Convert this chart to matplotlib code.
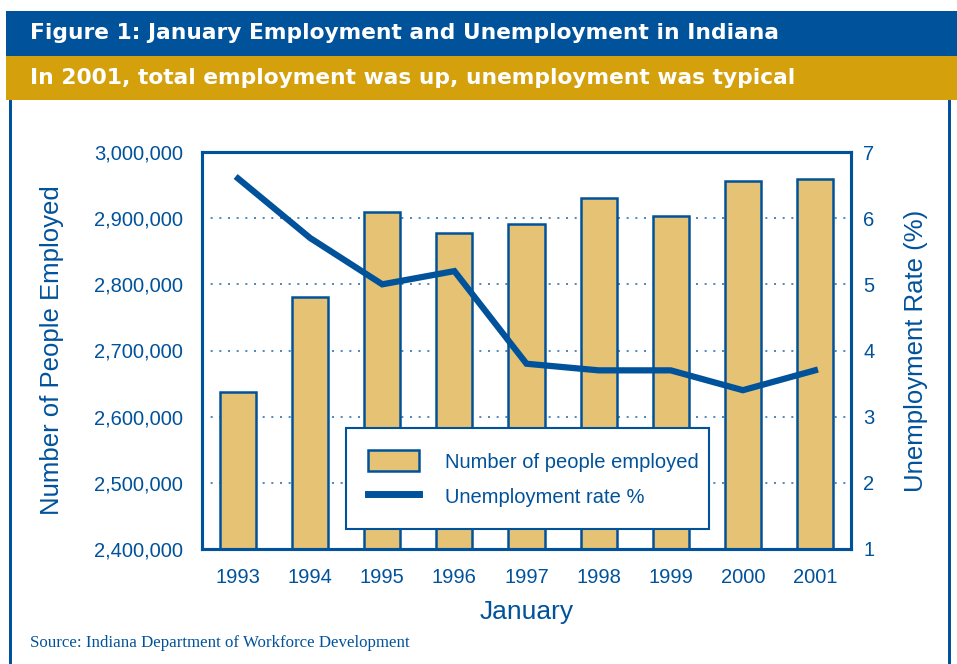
import matplotlib
matplotlib.use("Agg")
import matplotlib.pyplot as plt
from matplotlib.patches import Rectangle, Patch
from matplotlib.lines import Line2D
from matplotlib.ticker import FuncFormatter

years = ["1993", "1994", "1995", "1996", "1997", "1998", "1999", "2000", "2001"]
employed = [2637000, 2781000, 2909000, 2877000, 2891000, 2930000, 2903000, 2956000, 2959000]
unemp_rate = [6.6, 5.7, 5.0, 5.2, 3.8, 3.7, 3.7, 3.4, 3.7]
left_ticks = [2400000, 2500000, 2600000, 2700000, 2800000, 2900000, 3000000]
right_ticks = [1, 2, 3, 4, 5, 6, 7]

BLUE = "#00529B"
GOLD = "#D4A00C"
BAR = "#E6C274"

plt.rcParams["font.family"] = ["Liberation Sans", "DejaVu Sans"]

W, H = 957, 664
fig = plt.figure(figsize=(W / 100, H / 100), dpi=100)


def px_rect(x0, y0, x1, y1, color):
    fig.patches.append(Rectangle((x0 / W, 1 - y1 / H), (x1 - x0) / W, (y1 - y0) / H,
                                 transform=fig.transFigure, facecolor=color,
                                 edgecolor="none", zorder=0))


# frame and header bars
px_rect(6, 11, 957, 56, BLUE)
px_rect(6, 56, 957, 100, GOLD)
px_rect(9, 100, 12, 664, BLUE)
px_rect(948, 100, 951, 664, BLUE)

head = dict(color="white", fontsize=15.7, fontweight="bold", va="center", ha="left",
            family=["DejaVu Sans"])
fig.text(30 / W, 1 - 33 / H, "Figure 1: January Employment and Unemployment in Indiana", **head)
fig.text(30 / W, 1 - 78 / H, "In 2001, total employment was up, unemployment was typical", **head)
fig.text(30 / W, 1 - 643 / H, "Source: Indiana Department of Workforce Development",
         color=BLUE, fontsize=12.2, family=["Liberation Serif", "DejaVu Serif"],
         va="center", ha="left")

ax = fig.add_axes([202 / W, 1 - 549 / H, 649 / W, 397 / H])
x = range(len(years))
ax.bar(x, employed, width=0.5, color=BAR, edgecolor=BLUE, linewidth=1.8, zorder=2)
ax.set_xlim(-0.5, len(years) - 0.5)
ax.set_ylim(left_ticks[0], left_ticks[-1])
ax.set_yticks(left_ticks)
ax.yaxis.set_major_formatter(FuncFormatter(lambda v, p: f"{int(v):,}"))
ax.set_xticks(list(x))
ax.set_xticklabels(years)
ax.grid(axis="y", color=BLUE, linestyle=(0, (1.2, 4)), linewidth=1.2, alpha=0.8, zorder=1)
ax.set_axisbelow(True)
ax.tick_params(axis="y", length=0, labelsize=14.5, labelcolor=BLUE, pad=13.5)
ax.tick_params(axis="x", length=0, labelsize=14.5, labelcolor=BLUE, pad=14)
for s in ax.spines.values():
    s.set_color(BLUE)
    s.set_linewidth(2.2)
ax.set_ylabel("Number of People Employed", fontsize=18.5, color=BLUE, labelpad=22)
ax.set_xlabel("January", fontsize=19, color=BLUE, labelpad=9)

ax2 = ax.twinx()
ax2.plot(list(x), unemp_rate, color=BLUE, linewidth=4.5, solid_joinstyle="miter", zorder=3)
ax2.set_ylim(right_ticks[0], right_ticks[-1])
ax2.set_yticks(right_ticks)
ax2.tick_params(length=0, labelsize=14.5, labelcolor=BLUE, pad=9)
for s in ax2.spines.values():
    s.set_color(BLUE)
    s.set_linewidth(2.2)
ax2.set_ylabel("Unemployment Rate (%)", fontsize=18.5, color=BLUE, labelpad=21)

handles = [Patch(facecolor=BAR, edgecolor=BLUE, linewidth=1.8),
           Line2D([0], [0], color=BLUE, linewidth=5)]
leg = ax2.legend(handles, ["Number of people employed", "Unemployment rate %"],
                 loc="upper left", bbox_to_anchor=(346 / W, 1 - 524 / H, 363 / W, 96 / H),
                 bbox_transform=fig.transFigure, mode="expand", fontsize=14.5,
                 frameon=True, fancybox=False, framealpha=1, borderpad=1.1,
                 handlelength=2.5, handleheight=1.25, handletextpad=1.3,
                 labelspacing=0.7, borderaxespad=0)
leg.get_frame().set_edgecolor(BLUE)
leg.get_frame().set_linewidth(1.5)
for t in leg.get_texts():
    t.set_color(BLUE)

fig.savefig("out.png", dpi=100)
